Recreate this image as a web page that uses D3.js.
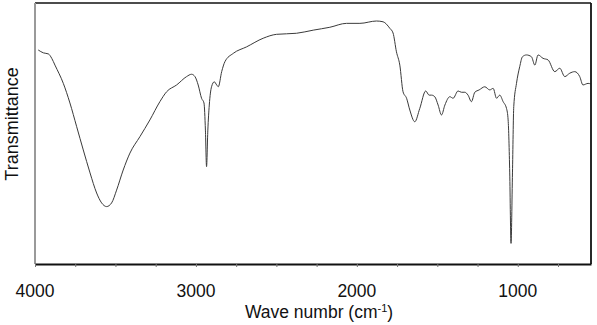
<!DOCTYPE html>
<html>
<head>
<meta charset="utf-8">
<script src="https://cdn.jsdelivr.net/npm/d3@7"></script>
<style>
  html, body { margin: 0; padding: 0; background: #fff; }
  svg { display: block; }
  text { font-family: "Liberation Sans", Arial, sans-serif; fill: #111; }
</style>
</head>
<body>
<svg id="chart" width="597" height="325"></svg>
<script>
// Wavenumber (cm-1)
const wavenumber = [3980,3948,3917,3896,3876,3824,3783,3741,3700,3658,3617,3586,3555,3524,3493,3452,3410,3348,3286,3224,3182,3120,3058,3027,3006,2986,2965,2950,2941,2934,2926,2917,2903,2886,2871,2861,2840,2820,2768,2685,2582,2499,2375,2271,2168,2064,1981,1878,1837,1795,1775,1754,1733,1713,1691,1671,1640,1609,1572,1551,1536,1516,1495,1474,1453,1422,1402,1371,1350,1329,1309,1288,1267,1240,1205,1174,1153,1132,1112,1091,1070,1060,1050,1042,1033,1025,1008,988,971,946,915,894,874,843,812,770,739,708,677,646,615,595,563,547];
// Transmittance (arbitrary %, 0 = bottom of frame)
const transmittance = [82.0,80.9,80.5,78.8,76.2,69.2,61.7,52.6,43.7,34.9,27.2,23.4,22.0,23.4,28.3,36.0,42.5,48.8,55.2,62.2,66.0,68.6,71.8,72.7,71.8,68.6,63.5,61.7,51.3,37.3,51.3,60.9,67.9,69.8,68.6,67.9,73.7,77.5,80.7,83.2,86.5,88.0,88.4,89.6,90.7,92.2,92.2,93.1,92.8,90.3,88.5,81.3,76.2,66.0,63.5,59.0,54.5,59.6,66.3,64.7,64.7,64.1,60.9,57.1,60.9,64.1,63.5,66.3,65.8,65.8,64.7,62.2,65.8,66.7,67.9,66.7,67.3,63.5,64.7,62.2,59.6,55.2,34.9,7.9,34.9,60.3,69.2,75.6,79.4,80.1,79.4,76.2,80.1,78.8,78.2,73.7,75.0,71.8,73.1,73.7,71.8,68.6,69.2,69.0];
const tickValues = [4000,3750,3500,3250,3000,2750,2500,2250,2000,1750,1500,1250,1000,750];
const tickLabels = ["4000","3000","2000","1000"];
const labelValues = [4000,3000,2000,1000];
const xDomain = [4000, 545];
const yDomain = [0, 100];

const svg = d3.select("#chart");
const pL = 35, pR = 591, pT = 3, pB = 264;

const x = d3.scaleLinear().domain(xDomain).range([pL, pR]);
const y = d3.scaleLinear().domain(yDomain).range([pB, pT]);

const data = wavenumber.map((v, i) => ({v, t: transmittance[i]}));

// spectrum
const line = d3.line()
  .x(d => x(d.v))
  .y(d => y(d.t))
  .curve(d3.curveMonotoneX);

svg.append("path")
  .datum(data)
  .attr("d", line)
  .attr("fill", "none")
  .attr("stroke", "#3a3a3a")
  .attr("stroke-width", 1);

// frame: top & right black
svg.append("line").attr("x1", pL).attr("x2", pR).attr("y1", pT).attr("y2", pT)
  .attr("stroke", "#111").attr("stroke-width", 1.6);
svg.append("line").attr("x1", pR).attr("x2", pR).attr("y1", pT).attr("y2", pB)
  .attr("stroke", "#111").attr("stroke-width", 1.8);
// left axis gray
svg.append("line").attr("x1", pL).attr("x2", pL).attr("y1", pT).attr("y2", pB)
  .attr("stroke", "#9a9a9a").attr("stroke-width", 2);

// bottom axis
const xAxis = d3.axisBottom(x)
  .tickValues(tickValues)
  .tickSize(3)
  .tickSizeOuter(0)
  .tickFormat("");
const gx = svg.append("g").attr("transform", `translate(0,${pB})`).call(xAxis);
gx.select(".domain").attr("stroke", "#111").attr("stroke-width", 2);
gx.selectAll(".tick line").attr("stroke", "#777").attr("stroke-width", 1);

svg.append("g").selectAll("text")
  .data(labelValues)
  .join("text")
  .attr("x", d => x(d))
  .attr("y", 297)
  .attr("text-anchor", "middle")
  .style("font-size", "17.5px")
  .text((d, i) => tickLabels[i]);

// axis titles
const xt = svg.append("text")
  .attr("x", 319)
  .attr("y", 317.5)
  .attr("text-anchor", "middle")
  .style("font-size", "17.5px");
xt.append("tspan").text("Wave numbr (cm");
xt.append("tspan").text("-1").attr("dy", -6).style("font-size", "11px");
xt.append("tspan").text(")").attr("dy", 6);

svg.append("text")
  .attr("transform", "translate(18,124) rotate(-90)")
  .attr("text-anchor", "middle")
  .style("font-size", "18px")
  .text("Transmittance");
</script>
</body>
</html>
